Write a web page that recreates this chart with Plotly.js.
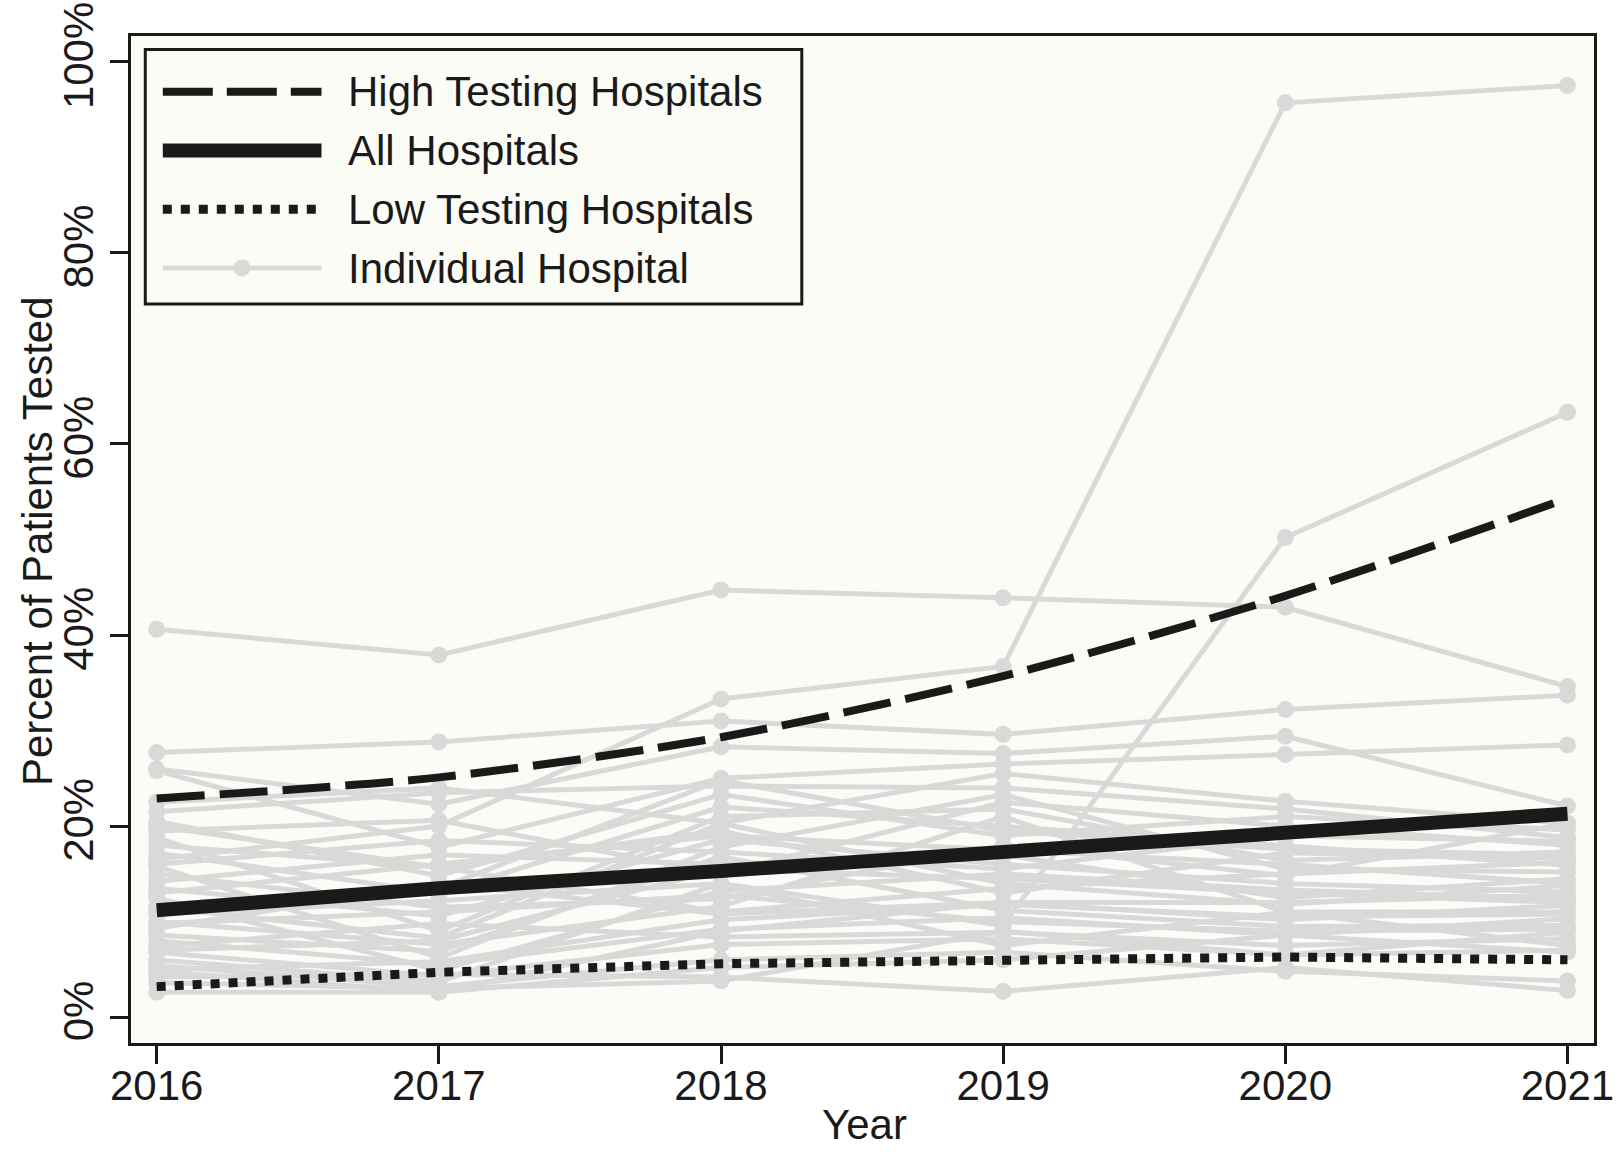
<!DOCTYPE html>
<html>
<head>
<meta charset="utf-8">
<script src="https://cdn.plot.ly/plotly-3.0.1.min.js"></script>
<style>
  html, body { margin: 0; padding: 0; background: #ffffff; }
  #chart { width: 1616px; height: 1152px; }
</style>
</head>
<body>
<div id="chart"></div>
<script>
// ---------- DATA ----------
const years = [2016, 2017, 2018, 2019, 2020, 2021];
const yearLabels = ["2016", "2017", "2018", "2019", "2020", "2021"];

const highTesting = [22.9, 25.1, 29.3, 35.7, 44.1, 54.3];
const allHospitals = [11.2, 13.5, 15.3, 17.4, 19.4, 21.3];
const lowTesting = [3.2, 4.7, 5.6, 6.0, 6.3, 6.0];

// individual hospitals (percent tested, 2016..2021)
const hosp01 = [40.6, 37.9, 44.7, 43.9, 42.9, 34.6];
const hosp02 = [16.5, 20.0, 33.3, 36.7, 95.7, 97.5];
const hosp03 = [27.7, 28.8, 31.0, 29.6, 32.2, 33.7];
const hosp04 = [10.8, 12.2, 14.0, 9.6, 50.2, 63.3];
const hosp05 = [26.0, 22.3, 28.3, 27.6, 29.4, 22.1];
const hosp06 = [25.8, 17.8, 25.0, 26.5, 27.5, 28.5];
const hosp07 = [22.5, 24.0, 20.3, 25.5, 22.6, 20.3];
const hosp08 = [21.5, 23.5, 24.2, 24.0, 21.8, 18.8];
const hosp09 = [20.5, 14.8, 23.3, 19.0, 21.0, 19.6];
const hosp10 = [19.5, 20.6, 15.0, 22.5, 20.0, 18.0];
const hosp11 = [18.8, 9.0, 21.0, 21.8, 16.4, 17.3];
const hosp12 = [18.0, 15.7, 19.5, 13.0, 17.2, 16.6];
const hosp13 = [17.2, 13.0, 22.0, 20.0, 18.0, 15.9];
const hosp14 = [15.8, 6.2, 17.8, 23.3, 15.5, 15.2];
const hosp15 = [15.0, 11.5, 12.4, 18.0, 14.8, 20.3];
const hosp16 = [14.2, 17.0, 16.0, 17.0, 12.5, 14.5];
const hosp17 = [13.5, 10.6, 18.6, 16.0, 14.0, 13.1];
const hosp18 = [12.5, 4.9, 13.2, 15.0, 13.3, 12.4];
const hosp19 = [11.5, 8.3, 20.3, 14.0, 11.8, 13.8];
const hosp20 = [10.0, 7.6, 11.6, 21.0, 11.0, 11.0];
const hosp21 = [9.3, 14.0, 10.8, 12.0, 10.2, 11.7];
const hosp22 = [8.6, 6.9, 16.8, 11.2, 9.5, 9.6];
const hosp23 = [8.0, 5.5, 9.2, 10.4, 8.6, 10.3];
const hosp24 = [7.4, 9.8, 8.4, 8.9, 7.5, 8.2];
const hosp25 = [6.8, 4.3, 7.6, 8.2, 6.5, 8.9];
const hosp26 = [6.0, 3.7, 14.0, 7.5, 11.0, 7.5];
const hosp27 = [5.4, 3.2, 6.0, 6.8, 4.8, 3.8];
const hosp28 = [4.8, 2.6, 5.2, 6.0, 8.6, 6.8];
const hosp29 = [4.2, 4.5, 4.2, 2.7, 5.2, 2.8];
const hosp30 = [3.6, 3.0, 3.8, 9.0, 6.5, 7.0];
const hosp31 = [2.6, 2.6, 9.0, 12.0, 12.0, 12.8];
const hosp32 = [20.0, 15.7, 11.0, 13.5, 15.0, 16.2];
const hosp33 = [13.0, 16.0, 19.0, 17.5, 16.0, 14.0];
const hosp34 = [9.8, 11.0, 12.8, 10.0, 9.0, 9.2];
const hosp35 = [7.0, 8.0, 15.5, 14.5, 13.0, 12.0];
const hosp36 = [5.0, 5.8, 10.2, 11.8, 10.5, 10.8];
const hosp37 = [11.0, 13.5, 24.8, 19.5, 17.6, 17.0];
const hosp38 = [16.0, 18.5, 17.3, 15.5, 19.0, 18.4];

const hospitals = [hosp01, hosp02, hosp03, hosp04, hosp05, hosp06, hosp07, hosp08, hosp09, hosp10,
  hosp11, hosp12, hosp13, hosp14, hosp15, hosp16, hosp17, hosp18, hosp19, hosp20,
  hosp21, hosp22, hosp23, hosp24, hosp25, hosp26, hosp27, hosp28, hosp29, hosp30,
  hosp31, hosp32, hosp33, hosp34, hosp35, hosp36, hosp37, hosp38];

const yTickVals = [0, 20, 40, 60, 80, 100];
const yTickLabels = ["0%", "20%", "40%", "60%", "80%", "100%"];

const legendLabels = ["High Testing Hospitals", "All Hospitals", "Low Testing Hospitals", "Individual Hospital"];
const xTitle = "Year";
const yTitle = "Percent of Patients Tested";

// ---------- STYLE ----------
const FONT = "Liberation Sans, Arial, Helvetica, sans-serif";
const INK = "#1a1a1a";
const GRAY = "#d9d9d9";
const BG = "#fcfcf6";

const traces = [];
hospitals.forEach(function (h) {
  traces.push({
    x: years, y: h, type: "scatter", mode: "lines+markers",
    line: { color: GRAY, width: 5 },
    marker: { color: GRAY, size: 17 },
    showlegend: false, hoverinfo: "skip"
  });
});
traces.push({
  x: years, y: highTesting, type: "scatter", mode: "lines", name: legendLabels[0],
  line: { color: INK, width: 8, dash: "48px,15px", shape: "spline", smoothing: 0.8 },
  showlegend: false
});
traces.push({
  x: years, y: allHospitals, type: "scatter", mode: "lines", name: legendLabels[1],
  line: { color: INK, width: 14 },
  showlegend: false
});
traces.push({
  x: years, y: lowTesting, type: "scatter", mode: "lines", name: legendLabels[2],
  line: { color: INK, width: 9, dash: "9px,9px" },
  showlegend: false
});

// plot area in pixels: left 131, right 1594, top 36, bottom 1043
const L = 131, R = 1594, T = 36, B = 1043;
const px = function (x) { return (x - L) / (R - L); };
const py = function (y) { return (B - y) / (B - T); };

const rowsY = [91.7, 150.5, 209.2, 268.0];
const sampleX0 = px(162.8), sampleX1 = px(321.5);
const textX = px(345.5);

const shapes = [
  { type: "rect", xref: "paper", yref: "paper", x0: px(145.3), x1: px(801.8), y0: py(304), y1: py(49.5),
    line: { color: INK, width: 3 }, fillcolor: BG, layer: "above" },
  { type: "line", xref: "paper", yref: "paper", x0: sampleX0, x1: sampleX1, y0: py(rowsY[0]), y1: py(rowsY[0]),
    line: { color: INK, width: 8, dash: "50px,14px" } },
  { type: "line", xref: "paper", yref: "paper", x0: sampleX0, x1: sampleX1, y0: py(rowsY[1]), y1: py(rowsY[1]),
    line: { color: INK, width: 14 } },
  { type: "line", xref: "paper", yref: "paper", x0: sampleX0, x1: sampleX1, y0: py(rowsY[2]), y1: py(rowsY[2]),
    line: { color: INK, width: 9, dash: "9px,9px" } },
  { type: "line", xref: "paper", yref: "paper", x0: sampleX0, x1: sampleX1, y0: py(rowsY[3]), y1: py(rowsY[3]),
    line: { color: GRAY, width: 5 } },
  { type: "circle", xref: "paper", yref: "paper", xsizemode: "pixel", ysizemode: "pixel",
    xanchor: px(242), yanchor: py(rowsY[3]), x0: -8.5, x1: 8.5, y0: -8.5, y1: 8.5,
    fillcolor: GRAY, line: { width: 0 } }
];

const annotations = legendLabels.map(function (t, i) {
  return { text: t, xref: "paper", yref: "paper", x: textX, y: py(rowsY[i]),
    xanchor: "left", yanchor: "middle", showarrow: false,
    font: { family: FONT, size: 42, color: INK } };
});
// axis titles placed precisely
annotations.push({
  text: yTitle, xref: "paper", yref: "paper", x: px(37), y: py(541),
  xanchor: "center", yanchor: "middle", textangle: -90, showarrow: false,
  font: { family: FONT, size: 42, color: INK }
});
annotations.push({
  text: xTitle, xref: "paper", yref: "paper", x: px(864), y: py(1150),
  xanchor: "center", yanchor: "bottom", showarrow: false,
  font: { family: FONT, size: 42, color: INK }
});

const axisFont = { family: FONT, size: 42, color: INK };

const layout = {
  width: 1616, height: 1152,
  margin: { l: L, r: 1616 - R, t: T, b: 1152 - B, pad: 0 },
  paper_bgcolor: "#ffffff",
  plot_bgcolor: BG,
  showlegend: false,
  xaxis: {
    range: [2015.909, 2021.094],
    tickvals: years, ticktext: yearLabels,
    ticks: "outside", ticklen: 18, tickwidth: 3, tickcolor: INK,
    ticklabelstandoff: -14,
    showline: true, linewidth: 3, linecolor: INK, mirror: true,
    showgrid: false, zeroline: false,
    tickfont: axisFont
  },
  yaxis: {
    range: [-2.70, 102.69],
    tickvals: yTickVals, ticktext: yTickLabels, tickangle: -90,
    ticks: "outside", ticklen: 18, tickwidth: 3, tickcolor: INK,
    showline: true, linewidth: 3, linecolor: INK, mirror: true,
    showgrid: false, zeroline: false,
    tickfont: axisFont
  },
  shapes: shapes,
  annotations: annotations
};

Plotly.newPlot("chart", traces, layout, { displayModeBar: false, staticPlot: true });
</script>
</body>
</html>
